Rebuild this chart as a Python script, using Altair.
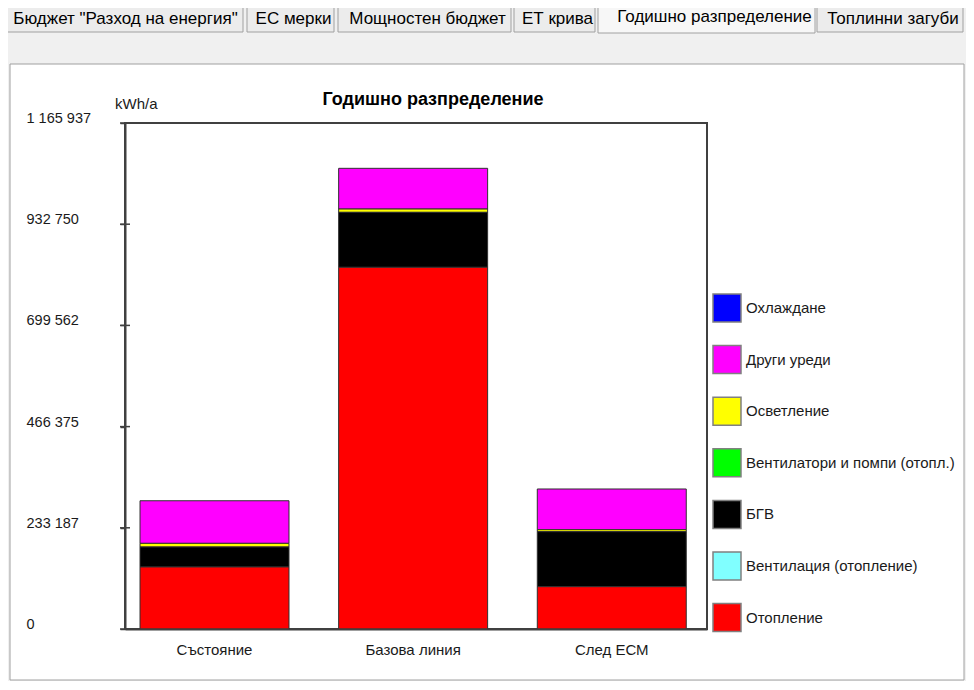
import altair as alt
import pandas as pd

# ---------------- data ----------------
SCENARIOS = ["Състояние", "Базова линия", "След ЕСМ"]

# legend order (top -> bottom)
CATEGORIES = [
    "Охлаждане",
    "Други уреди",
    "Осветление",
    "Вентилатори и помпи (отопл.)",
    "БГВ",
    "Вентилация (отопление)",
    "Отопление",
]
COLORS = ["#0000ff", "#ff00ff", "#ffff00", "#00ff00", "#000000", "#80ffff", "#ff0000"]

# values per category for each scenario (kWh/a)
COOLING = [0, 0, 0]
OTHER_APPLIANCES = [98200, 93800, 93800]
LIGHTING = [8300, 7600, 4600]
FANS_PUMPS = [0, 0, 0]
DHW = [46100, 126700, 126700]
VENTILATION = [0, 0, 0]
HEATING = [142900, 833400, 97500]

SERIES = [COOLING, OTHER_APPLIANCES, LIGHTING, FANS_PUMPS, DHW, VENTILATION, HEATING]

Y_MAX = 1165937
Y_TICKS = [0, 233187, 466375, 699562, 932750, 1165937]

TITLE = "Годишно разпределение"
UNIT = "kWh/a"
TABS = ["Бюджет \"Разход на енергия\"", "ЕС мерки", "Мощностен бюджет",
        "ЕТ крива", "Годишно разпределение", "Топлинни загуби"]

rows = []
n = len(CATEGORIES)
for ci, (cat, vals) in enumerate(zip(CATEGORIES, SERIES)):
    for s, v in zip(SCENARIOS, vals):
        rows.append({"scenario": s, "category": cat, "value": v, "stack": n - 1 - ci})
df = pd.DataFrame(rows)
ticks_df = pd.DataFrame({"value": Y_TICKS})

FONT = "Liberation Sans"
AXIS_COLOR = "#404040"
W, H = 582, 506

yscale = alt.Scale(domain=[0, Y_MAX], nice=False, zero=True)

LABEL_EXPR = "replace(replace(format(datum.value, ','), ',', ' '), ',', ' ')"
yaxis = alt.Axis(
    values=Y_TICKS,
    labelExpr=LABEL_EXPR,
    grid=False, ticks=True, tickSize=5, tickColor=AXIS_COLOR, tickWidth=1.5,
    labelAlign="left", labelBaseline="middle", labelPadding=94,
    labelOffset=-4.5, labelFontSize=14.5, labelColor="#1a1a1a", labelFont=FONT,
    labelOverlap=False, labelBound=False, domainColor=AXIS_COLOR,
    domainWidth=2, zindex=1,
)


def rect(x1, x2, y1, y2, fill, stroke, sw=1.0):
    return alt.Chart(alt.Data(values=[{}])).mark_rect(
        fill=fill, stroke=stroke, strokeWidth=sw
    ).encode(x=alt.value(x1), x2=alt.value(x2), y=alt.value(y1), y2=alt.value(y2))


def text(s, x, y, size, weight="normal", align="center", color="#000000"):
    return alt.Chart(alt.Data(values=[{"t": s}])).mark_text(
        align=align, baseline="middle", fontSize=size, fontWeight=weight,
        color=color, font=FONT
    ).encode(x=alt.value(x), y=alt.value(y), text="t:N")


# background panel
panel = rect(-115, 839, -59, 557, "#ffffff", "#a0a0a0", 1)

# tab strip
tab_boxes = [(-123, 118), (122, 209), (213, 386), (389, 470), (473, 690), (692, 838)]
tab_layers = []
for i, (name, (a, b)) in enumerate(zip(TABS, tab_boxes)):
    if i == 4:
        tab_layers.append(rect(a, b, -121, -90, "#f7f7f7", "#a0a0a0", 1))
        tab_layers.append(text(name, (a + b) / 2 + 8, -106, 17))
    else:
        tab_layers.append(rect(a, b, -118, -91, "#ececec", "#a0a0a0", 1))
        tab_layers.append(text(name, (a + b) / 2 + 3, -104, 17))

frame = rect(0, W, 0, H, "transparent", AXIS_COLOR, 2)

bars = alt.Chart(df).transform_filter("datum.value > 0").mark_bar(
    stroke="#303030", strokeWidth=1
).encode(
    x=alt.X(
        "scenario:N", sort=SCENARIOS, title=None,
        scale=alt.Scale(paddingInner=0.25, paddingOuter=0.09, align=0.42),
        axis=alt.Axis(
            labelAngle=0, ticks=False, tickSize=0, labelPadding=13, labelFontSize=15,
            labelColor="#1a1a1a", labelFont=FONT, domainColor=AXIS_COLOR,
            domainWidth=2, zindex=1,
        ),
    ),
    y=alt.Y("value:Q", stack="zero", scale=yscale, title=None, axis=yaxis),
    color=alt.Color(
        "category:N",
        scale=alt.Scale(domain=CATEGORIES, range=COLORS),
        legend=alt.Legend(
            title=None, orient="none", legendX=587, legendY=170, padding=0,
            symbolType="square", symbolSize=784, symbolStrokeColor="#808080",
            symbolStrokeWidth=1.5, symbolOpacity=1, labelFontSize=15,
            labelOffset=4, rowPadding=17.6, labelLimit=300, labelFont=FONT,
            labelColor="#1a1a1a", zindex=1,
        ),
    ),
    order=alt.Order("stack:Q", sort="ascending"),
)

tick_rules = alt.Chart(ticks_df).mark_rule(color=AXIS_COLOR, strokeWidth=1.5).encode(
    y=alt.Y("value:Q", scale=yscale, title=None, axis=yaxis),
    x=alt.value(-5),
    x2=alt.value(5),
)

title_txt = text(TITLE, 308, -23, 18, weight="bold", color="#000000")
unit_txt = text(UNIT, -10, -19, 15, align="left", color="#1a1a1a")

chart = alt.layer(
    panel, *tab_layers, frame, bars, tick_rules, title_txt, unit_txt
).properties(
    width=W,
    height=H,
    autosize=alt.AutoSizeParams(type="none"),
    padding={"left": 117, "top": 115, "right": 259, "bottom": 52},
    background="#f0f0f0",
).configure_view(stroke=None).configure(font=FONT)

chart.save("out.html", embed_options={"renderer": "svg", "actions": False})
